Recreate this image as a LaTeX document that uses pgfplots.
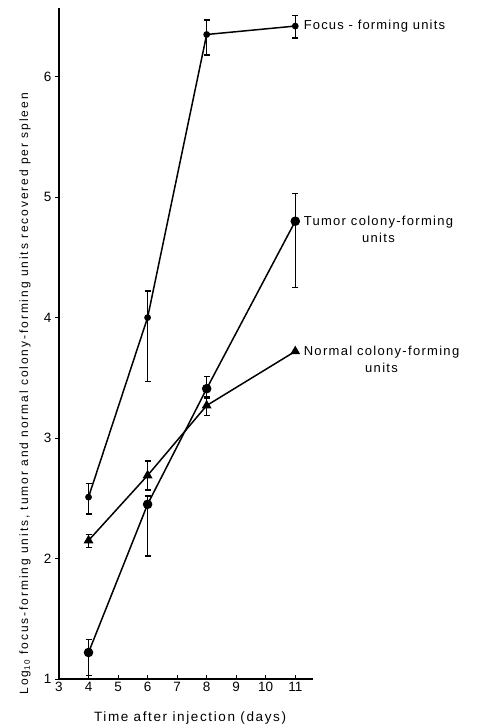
\documentclass[border=0pt]{standalone}
\usepackage{pgfplots}
\pgfplotsset{compat=1.18}
\usepackage{fontspec}
\setmainfont{Liberation Sans}
\begin{document}
\begin{tikzpicture}
\begin{axis}[
  scale only axis,
  clip=false,
  width=254pt, height=671pt,
  xmin=3, xmax=11.6, ymin=1, ymax=6.57,
  axis lines=left,
  axis line style={-, line width=1.6pt},
  xtick={3,4,5,6,7,8,9,10,11},
  ytick={1,2,3,4,5,6},
  xtick align=inside,
  ytick align=outside,
  major tick length=4pt,
  tick style={line width=1pt, black},
  /pgf/number format/assume math mode=true,
  ticklabel style={font=\fontsize{13.5}{15}\selectfont},
  xlabel={Time after injection (days)},
  xlabel style={font=\fontsize{13.5}{16}\selectfont\addfontfeature{LetterSpace=12}, at={(axis description cs:0.516,-0.058)}, anchor=center},
  ylabel={Log\textsubscript{10} focus-forming units, tumor and normal colony-forming units recovered per spleen},
  ylabel style={font=\fontsize{12}{14}\selectfont\addfontfeature{LetterSpace=16}, at={(axis description cs:-0.134,0.425)}, anchor=center},
]
% Focus-forming units
\addplot[black, line width=1.5pt, mark=*, mark size=2.6pt, mark options={black, fill=black},
  error bars/.cd, y dir=both, y explicit,
  error bar style={black, line width=1.3pt},
  error mark options={black, rotate=90, mark size=3pt, line width=1.3pt}]
  table[x=x, y=y, y error plus=ep, y error minus=em] {
x y ep em
4 2.51 0.11 0.14
6 4.00 0.22 0.53
8 6.35 0.12 0.17
11 6.42 0.09 0.10
};
% Tumor colony-forming units
\addplot[black, line width=1.5pt, mark=*, mark size=4pt, mark options={black, fill=black},
  error bars/.cd, y dir=both, y explicit,
  error bar style={black, line width=1.3pt},
  error mark options={black, rotate=90, mark size=3pt, line width=1.3pt}]
  table[x=x, y=y, y error plus=ep, y error minus=em] {
x y ep em
4 1.22 0.11 0.19
6 2.45 0.07 0.43
8 3.41 0.10 0.08
11 4.80 0.23 0.55
};
% Normal colony-forming units
\addplot[black, line width=1.5pt, mark=triangle*, mark size=4.2pt, mark options={black, fill=black},
  error bars/.cd, y dir=both, y explicit,
  error bar style={black, line width=1.3pt},
  error mark options={black, rotate=90, mark size=3pt, line width=1.3pt}]
  table[x=x, y=y, y error plus=ep, y error minus=em] {
x y ep em
4 2.15 0.05 0.06
6 2.69 0.12 0.12
8 3.27 0.07 0.08
11 3.72 0 0
};
\node[anchor=west, font=\fontsize{13}{15}\selectfont\addfontfeature{LetterSpace=9}] at ([xshift=5pt]axis cs:11,6.42) {Focus - forming units};
\node[anchor=north west, align=center, font=\fontsize{13}{17}\selectfont\addfontfeature{LetterSpace=10}] at ([xshift=5pt,yshift=9pt]axis cs:11,4.80) {Tumor colony-forming\\units};
\node[anchor=north west, align=center, font=\fontsize{13}{17}\selectfont\addfontfeature{LetterSpace=10}] at ([xshift=5pt,yshift=9pt]axis cs:11,3.72) {Normal colony-forming\\units};
\end{axis}
\pgfresetboundingbox
\path[use as bounding box] ([shift={(-59pt,-47pt)}]current axis.south west) rectangle ++(477pt,726pt);
\end{tikzpicture}
\end{document}
